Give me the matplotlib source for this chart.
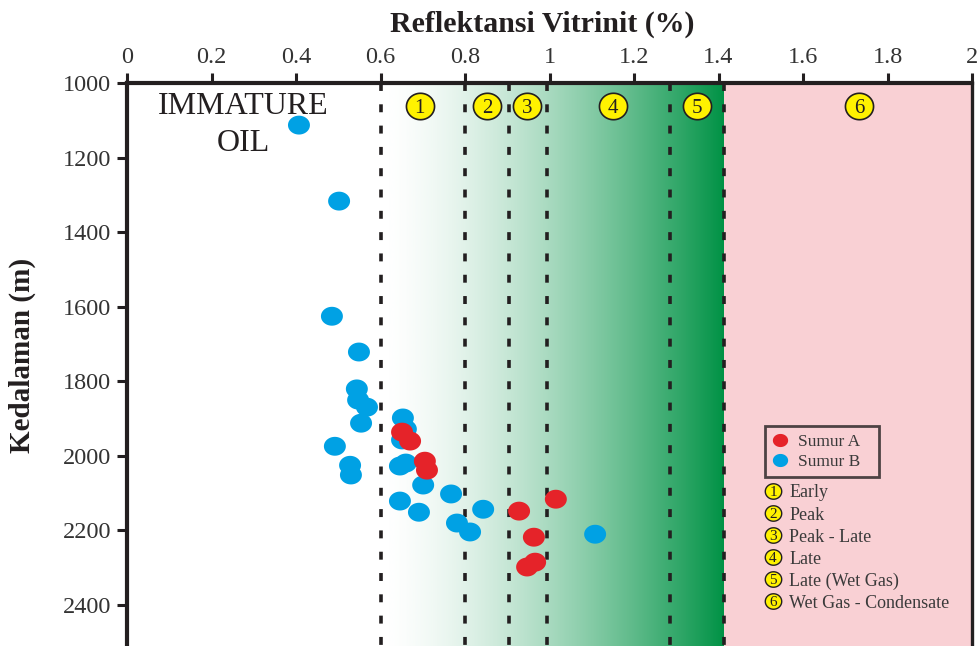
import numpy as np
import matplotlib
matplotlib.use("Agg")
import matplotlib.pyplot as plt
from matplotlib.path import Path
from matplotlib.colors import LinearSegmentedColormap
from matplotlib.lines import Line2D

# Vitrinite reflectance (%Ro) vs depth (m)
sumur_a_ro = [0.651, 0.670, 0.705, 0.710, 0.928, 1.015, 0.963, 0.947, 0.966]
sumur_a_depth = [1937, 1961, 2015, 2039, 2149, 2117, 2219, 2299, 2286]

sumur_b_ro = [0.407, 0.502, 0.485, 0.549, 0.544, 0.547, 0.568, 0.554, 0.492, 0.528,
              0.530, 0.653, 0.660, 0.651, 0.646, 0.660, 0.701, 0.646, 0.691, 0.767,
              0.843, 0.781, 0.812, 1.108]
sumur_b_depth = [1113, 1317, 1626, 1722, 1821, 1851, 1870, 1913, 1975, 2026,
                 2052, 1899, 1929, 1958, 2028, 2020, 2079, 2122, 2152, 2103,
                 2144, 2181, 2205, 2211]

# maturity zone boundaries and the numbered zone markers
zone_bounds = [0.6, 0.8, 0.905, 0.995, 1.285, 1.412]
zone_mark_x = [0.693, 0.852, 0.947, 1.150, 1.349, 1.733]
zone_names = ["Early", "Peak", "Peak - Late", "Late", "Late (Wet Gas)",
              "Wet Gas - Condensate"]

x_ticks = [0, 0.2, 0.4, 0.6, 0.8, 1, 1.2, 1.4, 1.6, 1.8, 2]
x_tick_labels = ["0", "0.2", "0.4", "0.6", "0.8", "1", "1.2", "1.4", "1.6", "1.8", "2"]
y_ticks = [1000, 1200, 1400, 1600, 1800, 2000, 2200, 2400]

RED = "#e52329"
BLUE = "#00a1e4"
YELLOW = "#fff200"
INK = "#231f20"
PINK = "#f9d0d4"
GREEN = "#009245"

Y_BOTTOM = 2511

plt.rcParams["font.family"] = ["Liberation Serif", "DejaVu Serif"]


def ellipse_marker(ratio):
    t = np.linspace(0, 2 * np.pi, 72)
    return Path(np.column_stack([np.cos(t), ratio * np.sin(t)]), closed=True)


DOT = ellipse_marker(0.86)
BADGE = ellipse_marker(0.94)

fig = plt.figure(figsize=(9.8, 6.46), dpi=100)
ax = fig.add_axes([127 / 980, 0, 845 / 980, 1 - 83 / 646])

# backgrounds: white -> green gradient for the oil window, pink for wet gas
grad = np.linspace(0, 1, 512) ** 1.5
cmap = LinearSegmentedColormap.from_list("oilwin", ["#ffffff", GREEN])
ax.imshow(grad[np.newaxis, :], cmap=cmap, aspect="auto",
          extent=(zone_bounds[0], zone_bounds[-1], Y_BOTTOM, 1000), zorder=0)
ax.axvspan(zone_bounds[-1], 2, color=PINK, lw=0, zorder=0)

for xb in zone_bounds:
    ax.plot([xb, xb], [1000, Y_BOTTOM], color=INK, lw=2.6, ls=(0, (2.2, 3.7)),
            dash_capstyle="butt", zorder=2)

ax.scatter(sumur_b_ro, sumur_b_depth, s=250, marker=DOT, color=BLUE,
           edgecolors="none", zorder=4)
ax.scatter(sumur_a_ro, sumur_a_depth, s=250, marker=DOT, color=RED,
           edgecolors="none", zorder=5)

# numbered zone badges across the top
ax.scatter(zone_mark_x, [1062] * len(zone_mark_x), s=410, marker=BADGE,
           color=YELLOW, edgecolors=INK, linewidths=1.2, zorder=5)
for i, xm in enumerate(zone_mark_x):
    ax.text(xm, 1062, str(i + 1), ha="center", va="center_baseline",
            fontsize=15, color=INK, zorder=6)

ax.text(0.275, 1064, "IMMATURE", ha="center", va="center", fontsize=23,
        color=INK, zorder=3)
ax.text(0.275, 1163, "OIL", ha="center", va="center", fontsize=23,
        color=INK, zorder=3)

# well legend
handles = [Line2D([], [], ls="none", marker=DOT, markersize=11, color=RED, mec="none"),
           Line2D([], [], ls="none", marker=DOT, markersize=11, color=BLUE, mec="none")]
leg = ax.legend(handles, ["Sumur A", "Sumur B"], loc="upper left",
                bbox_to_anchor=(765 / 980, 1 - 477 / 646, 114 / 980, 51 / 646),
                bbox_transform=fig.transFigure, borderaxespad=0, mode="expand",
                fontsize=12.5, frameon=True, fancybox=False, borderpad=0.45,
                handlelength=0.85, handletextpad=0.6, labelspacing=0.2,
                labelcolor="#3a3a3a")
leg.get_frame().set_edgecolor(INK)
leg.get_frame().set_linewidth(2)
leg.get_frame().set_facecolor("none")
leg.set_zorder(7)

# zone key
key_x, key_y0, key_dy = 1.529, 2095, 59.2
key_y = [key_y0 + i * key_dy for i in range(len(zone_names))]
ax.scatter([key_x] * len(zone_names), key_y, s=140, marker=BADGE, color=YELLOW,
           edgecolors=INK, linewidths=1.0, zorder=6)
for i, (yk, name) in enumerate(zip(key_y, zone_names)):
    ax.text(key_x, yk, str(i + 1), ha="center", va="center_baseline",
            fontsize=11, color=INK, zorder=7)
    ax.text(key_x + 0.038, yk, name, ha="left", va="center_baseline",
            fontsize=13, color="#3a3a3a", zorder=7)

ax.set_xlim(0, 2)
ax.set_ylim(Y_BOTTOM, 1000)
ax.xaxis.tick_top()
ax.set_xticks(x_ticks)
ax.set_xticklabels(x_tick_labels)
ax.set_yticks(y_ticks)
ax.tick_params(axis="both", direction="out", length=7, width=2.2, color=INK,
               labelsize=17.5, labelcolor="#333333")
ax.tick_params(axis="x", pad=3.5)
ax.tick_params(axis="y", pad=4.5)
for side in ("top", "left", "right"):
    ax.spines[side].set_linewidth(3)
    ax.spines[side].set_color(INK)
ax.spines["right"].set_linewidth(2.4)
ax.spines["bottom"].set_visible(False)

fig.text(542 / 980, 1 - 32 / 646, "Reflektansi Vitrinit (%)", ha="center",
         va="baseline", fontsize=21.5, fontweight="bold", color=INK)
fig.text(22 / 980, 1 - 355 / 646, "Kedalaman (m)", ha="center", va="center",
         rotation=90, fontsize=21, fontweight="bold", color=INK)

fig.savefig("out.png", dpi=100)
